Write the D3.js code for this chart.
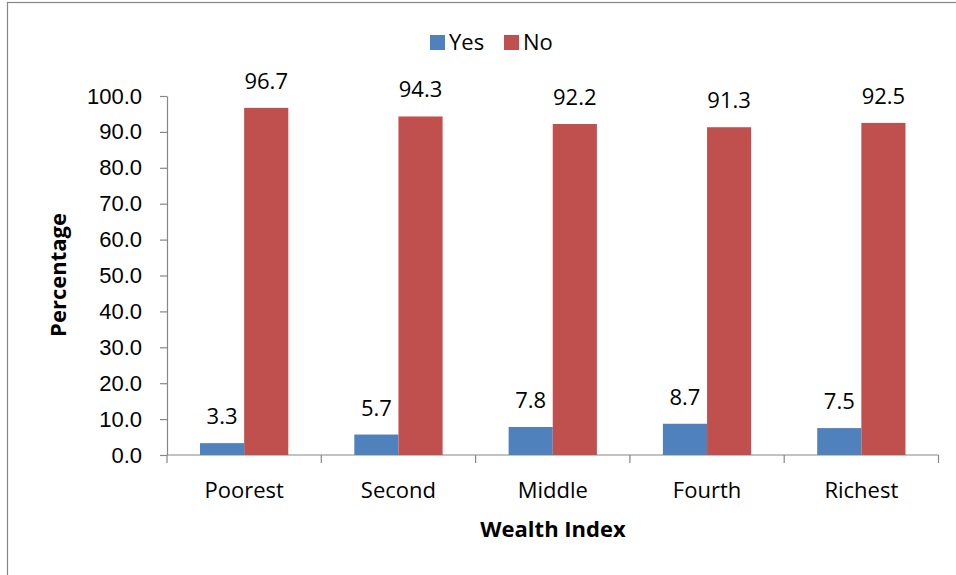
<!DOCTYPE html>
<html>
<head>
<meta charset="utf-8">
<script src="https://cdn.jsdelivr.net/npm/d3@7"></script>
<style>
  html, body { margin: 0; padding: 0; background: #fff; }
  svg { display: block; font-family: "Open Sans", "Noto Sans", sans-serif; }
  .axis path, .axis line { stroke: #868686; }
  .axis text { fill: #000; }
</style>
</head>
<body>
<svg id="chart" width="956" height="575"></svg>
<script>
// Wealth quintiles and the share (%) answering Yes / No
const categories = ["Poorest", "Second", "Middle", "Fourth", "Richest"];
const seriesNames = ["Yes", "No"];
const yesValues = [3.3, 5.7, 7.8, 8.7, 7.5];
const noValues = [96.7, 94.3, 92.2, 91.3, 92.5];
const yTickValues = [0, 10, 20, 30, 40, 50, 60, 70, 80, 90, 100];
const colors = { Yes: "#4F81BD", No: "#C0504D" };

const svg = d3.select("#chart");

// chart frame (continues past the right and bottom edges)
svg.append("rect")
  .attr("x", 7.5).attr("y", 2.5)
  .attr("width", 1000).attr("height", 620)
  .attr("fill", "#fff").attr("stroke", "#868686").attr("stroke-width", 1.2);

const plot = { left: 167, right: 938.5, top: 96, bottom: 455 };

const y = d3.scaleLinear().domain([0, 100]).range([plot.bottom, plot.top]);
const x0 = d3.scaleBand().domain(categories)
  .range([plot.left, plot.right])
  .paddingInner(0.428).paddingOuter(0.214);
const x1 = d3.scaleBand().domain(seriesNames).range([0, x0.bandwidth()]);

const rows = categories.map((c, i) => ({
  cat: c,
  values: [{ key: "Yes", v: yesValues[i] }, { key: "No", v: noValues[i] }]
}));

// y axis
svg.append("g")
  .attr("class", "axis")
  .attr("transform", `translate(${plot.left},0)`)
  .call(d3.axisLeft(y).tickValues(yTickValues).tickFormat(d3.format(".1f"))
    .tickSize(7).tickSizeOuter(0).tickPadding(18))
  .call(g => g.selectAll("text").style("font-size", "22px"))
  .call(g => g.selectAll("line, path").attr("stroke-width", 1.2));

// x axis line with ticks at category boundaries
const xAxis = svg.append("g").attr("class", "axis");
xAxis.append("line")
  .attr("x1", plot.left).attr("x2", plot.right)
  .attr("y1", plot.bottom).attr("y2", plot.bottom)
  .attr("stroke-width", 1.2);
const boundaries = d3.range(categories.length + 1).map(i => plot.left + i * x0.step());
xAxis.selectAll("line.tick").data(boundaries).join("line")
  .attr("class", "tick")
  .attr("x1", d => d).attr("x2", d => d)
  .attr("y1", plot.bottom).attr("y2", plot.bottom + 8)
  .attr("stroke-width", 1.2);
xAxis.selectAll("text").data(categories).join("text")
  .attr("x", d => x0(d) + x0.bandwidth() / 2)
  .attr("y", 498)
  .attr("text-anchor", "middle")
  .style("font-size", "22px")
  .text(d => d);

// bars
const groups = svg.append("g").selectAll("g").data(rows).join("g")
  .attr("transform", d => `translate(${x0(d.cat)},0)`);
groups.selectAll("rect").data(d => d.values).join("rect")
  .attr("x", d => x1(d.key))
  .attr("width", x1.bandwidth())
  .attr("y", d => y(d.v))
  .attr("height", d => y(0) - y(d.v))
  .attr("fill", d => colors[d.key]);

// value labels above each bar
groups.selectAll("text").data(d => d.values).join("text")
  .attr("x", d => x1(d.key) + x1.bandwidth() / 2)
  .attr("y", d => y(d.v) - 19)
  .attr("text-anchor", "middle")
  .style("font-size", "22px")
  .text(d => d3.format(".1f")(d.v));

// axis titles
svg.append("text")
  .attr("transform", `translate(66,275) rotate(-90)`)
  .attr("text-anchor", "middle")
  .style("font-size", "22px").style("font-weight", "bold")
  .text("Percentage");
svg.append("text")
  .attr("x", 553).attr("y", 537)
  .attr("text-anchor", "middle")
  .style("font-size", "22px").style("font-weight", "bold")
  .text("Wealth Index");

// legend
const legend = svg.append("g").attr("transform", "translate(430,35)");
const legendX = { Yes: 0, No: 74 };
seriesNames.forEach(s => {
  const g = legend.append("g").attr("transform", `translate(${legendX[s]},0)`);
  g.append("rect").attr("width", 15).attr("height", 15).attr("fill", colors[s]);
  g.append("text").attr("x", 19).attr("y", 15)
    .style("font-size", "22px").text(s);
});
</script>
</body>
</html>
